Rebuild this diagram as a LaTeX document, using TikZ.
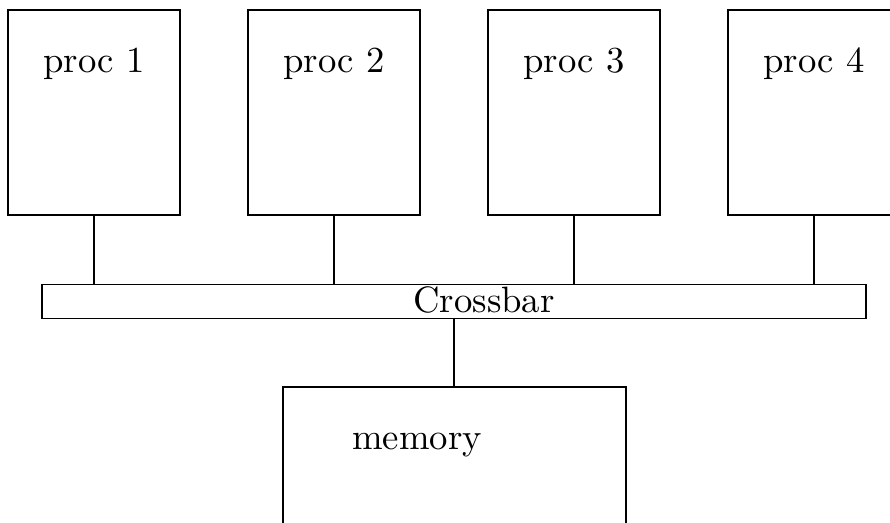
\documentclass[tikz,border=0pt]{standalone}
\newcommand\pxu{0.2725pt}
\begin{document}
\begin{tikzpicture}[x=0.2725pt,y=-0.2725pt,line width=0.3pt,
  box/.style={draw,rectangle,inner sep=0pt,minimum width=172*\pxu,minimum height=205*\pxu},
  barbox/.style={draw,rectangle,inner sep=0pt,minimum width=824*\pxu,minimum height=34*\pxu},
  membox/.style={draw,rectangle,inner sep=0pt,minimum width=343*\pxu,minimum height=173*\pxu},
  lbl/.style={anchor=base,inner sep=0pt},
  wire/.style={draw}]
\useasboundingbox (0,0) rectangle (890,522);
\clip (0,0) rectangle (890,522);
\node[box] (p1) at (94,112.5) {};
\node[box] (p2) at (334,112.5) {};
\node[box] (p3) at (574,112.5) {};
\node[box] (p4) at (814,112.5) {};
\node[lbl] (t1) at (94,72) {proc 1};
\node[lbl] (t2) at (334,72) {proc 2};
\node[lbl] (t3) at (574,72) {proc 3};
\node[lbl] (t4) at (814,72) {proc 4};
\node[barbox] (cb) at (454,301.5) {};
\node[lbl] (tcb) at (484,312) {Crossbar};
\node[membox] (mem) at (454.5,473.5) {};
\node[lbl] (tmem) at (417,449) {memory};
\foreach \p in {p1,p2,p3,p4}
  \draw[wire] (\p.south) -- (\p.south |- cb.north);
\draw[wire] (cb.south) -- (cb.south |- mem.north);
\end{tikzpicture}
\end{document}
